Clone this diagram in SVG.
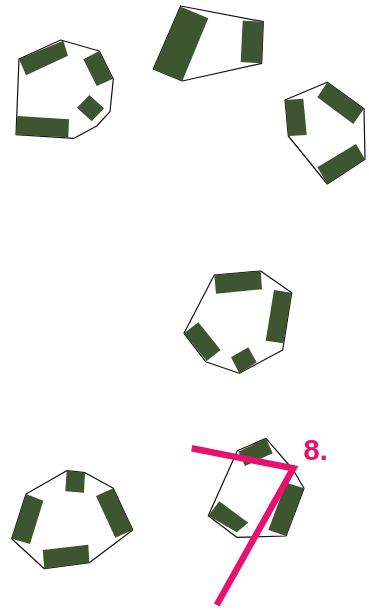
<svg xmlns="http://www.w3.org/2000/svg" width="369" height="610" viewBox="0 0 369 610">
<style>
.hull{fill:none;stroke:#111;stroke-width:1.2;stroke-linejoin:round}
.blk{fill:#3d5530}
.pink{fill:none;stroke:#e8116f;stroke-width:6.5;stroke-linejoin:miter}
.lbl{font-family:"Liberation Sans",Arial,sans-serif;font-weight:bold;font-size:29px;fill:#e8116f}
</style>
<rect width="369" height="610" fill="#fff"/>
<g id="node1">
<polygon class="hull" points="19,59 60.7,40 99.3,51 113.3,79 110,111.7 96.7,126 74,138.3 16,134.7"/>
<polygon class="blk" points="19,59 63.3,40.7 68,55.7 26,75.3"/>
<polygon class="blk" points="83.3,59.3 99.3,51 112.7,79 96.7,86"/>
<polygon class="blk" points="89.3,95 104,108.3 91.7,121.3 77,107.7"/>
<polygon class="blk" points="17.3,116 69,119.3 68.3,137.3 16,134.7"/>
</g>
<g id="node2">
<polygon class="hull" points="180.7,6 263.3,21.7 261.7,63.3 182.3,81 153.3,69"/>
<polygon class="blk" points="180.7,6.7 208.3,18.3 182.3,81 153.3,69"/>
<polygon class="blk" points="242.7,20.7 263.3,21.7 261.7,63.3 240.7,62"/>
</g>
<g id="node3">
<polygon class="hull" points="285,100 327.3,82.3 364,108.7 365,159.3 327.3,184 288.3,136"/>
<polygon class="blk" points="285,100 303.3,98.7 306.7,135 288.3,136"/>
<polygon class="blk" points="327.3,82.3 364,108.7 353.3,124 317.3,97.3"/>
<polygon class="blk" points="356,144 365,159.3 327.3,184 317.3,167.3"/>
</g>
<g id="node4">
<polygon class="hull" points="214.3,275 260.7,271 291.7,292.7 282.7,350 239.3,373.3 205.7,361.7 184,333.3"/>
<polygon class="blk" points="214.3,275 260.7,271 262,289.3 216,293.7"/>
<polygon class="blk" points="274,290 291.7,292.7 283.3,343.3 265.7,340.7"/>
<polygon class="blk" points="184,333.3 198.3,322.3 220.7,350 206.7,361"/>
<polygon class="blk" points="231,357.3 248.3,347.3 256.7,362.3 239.3,373.3"/>
</g>
<g id="node5">
<polygon class="hull" points="66.7,470.7 85,472.7 113.3,488.3 132.7,530 89.3,562.7 44.3,568.7 11.7,538.7 26,494"/>
<polygon class="blk" points="66.7,470.7 85,472.7 84,492.7 65.3,491.3"/>
<polygon class="blk" points="96,496 113.3,488.3 132.7,530 115.3,537.7"/>
<polygon class="blk" points="42.7,550 88.3,544.7 89.3,562.7 44.3,568.7"/>
<polygon class="blk" points="26,494 43.3,500.7 30,544 11.7,538.7"/>
</g>
<g id="node6">
<polygon class="hull" points="237.3,450.7 266,438.3 293.3,470 304,488.3 286,536 236.7,537.3 208.3,515.7"/>
<polygon class="blk" points="238.3,451.7 266,438.3 272.7,453.3 245,466"/>
<polygon class="blk" points="286,482.7 304,488.3 286,536 268.3,530"/>
<polygon class="blk" points="208.3,515.7 219.3,501.3 248.3,522.7 236.7,532.3"/>
</g>
<g id="connectors">
<polyline class="pink" points="191.7,448.3 293.3,468.3 216.7,605"/>
</g>
<text class="lbl" x="303.5" y="459.5">8.</text>
</svg>
